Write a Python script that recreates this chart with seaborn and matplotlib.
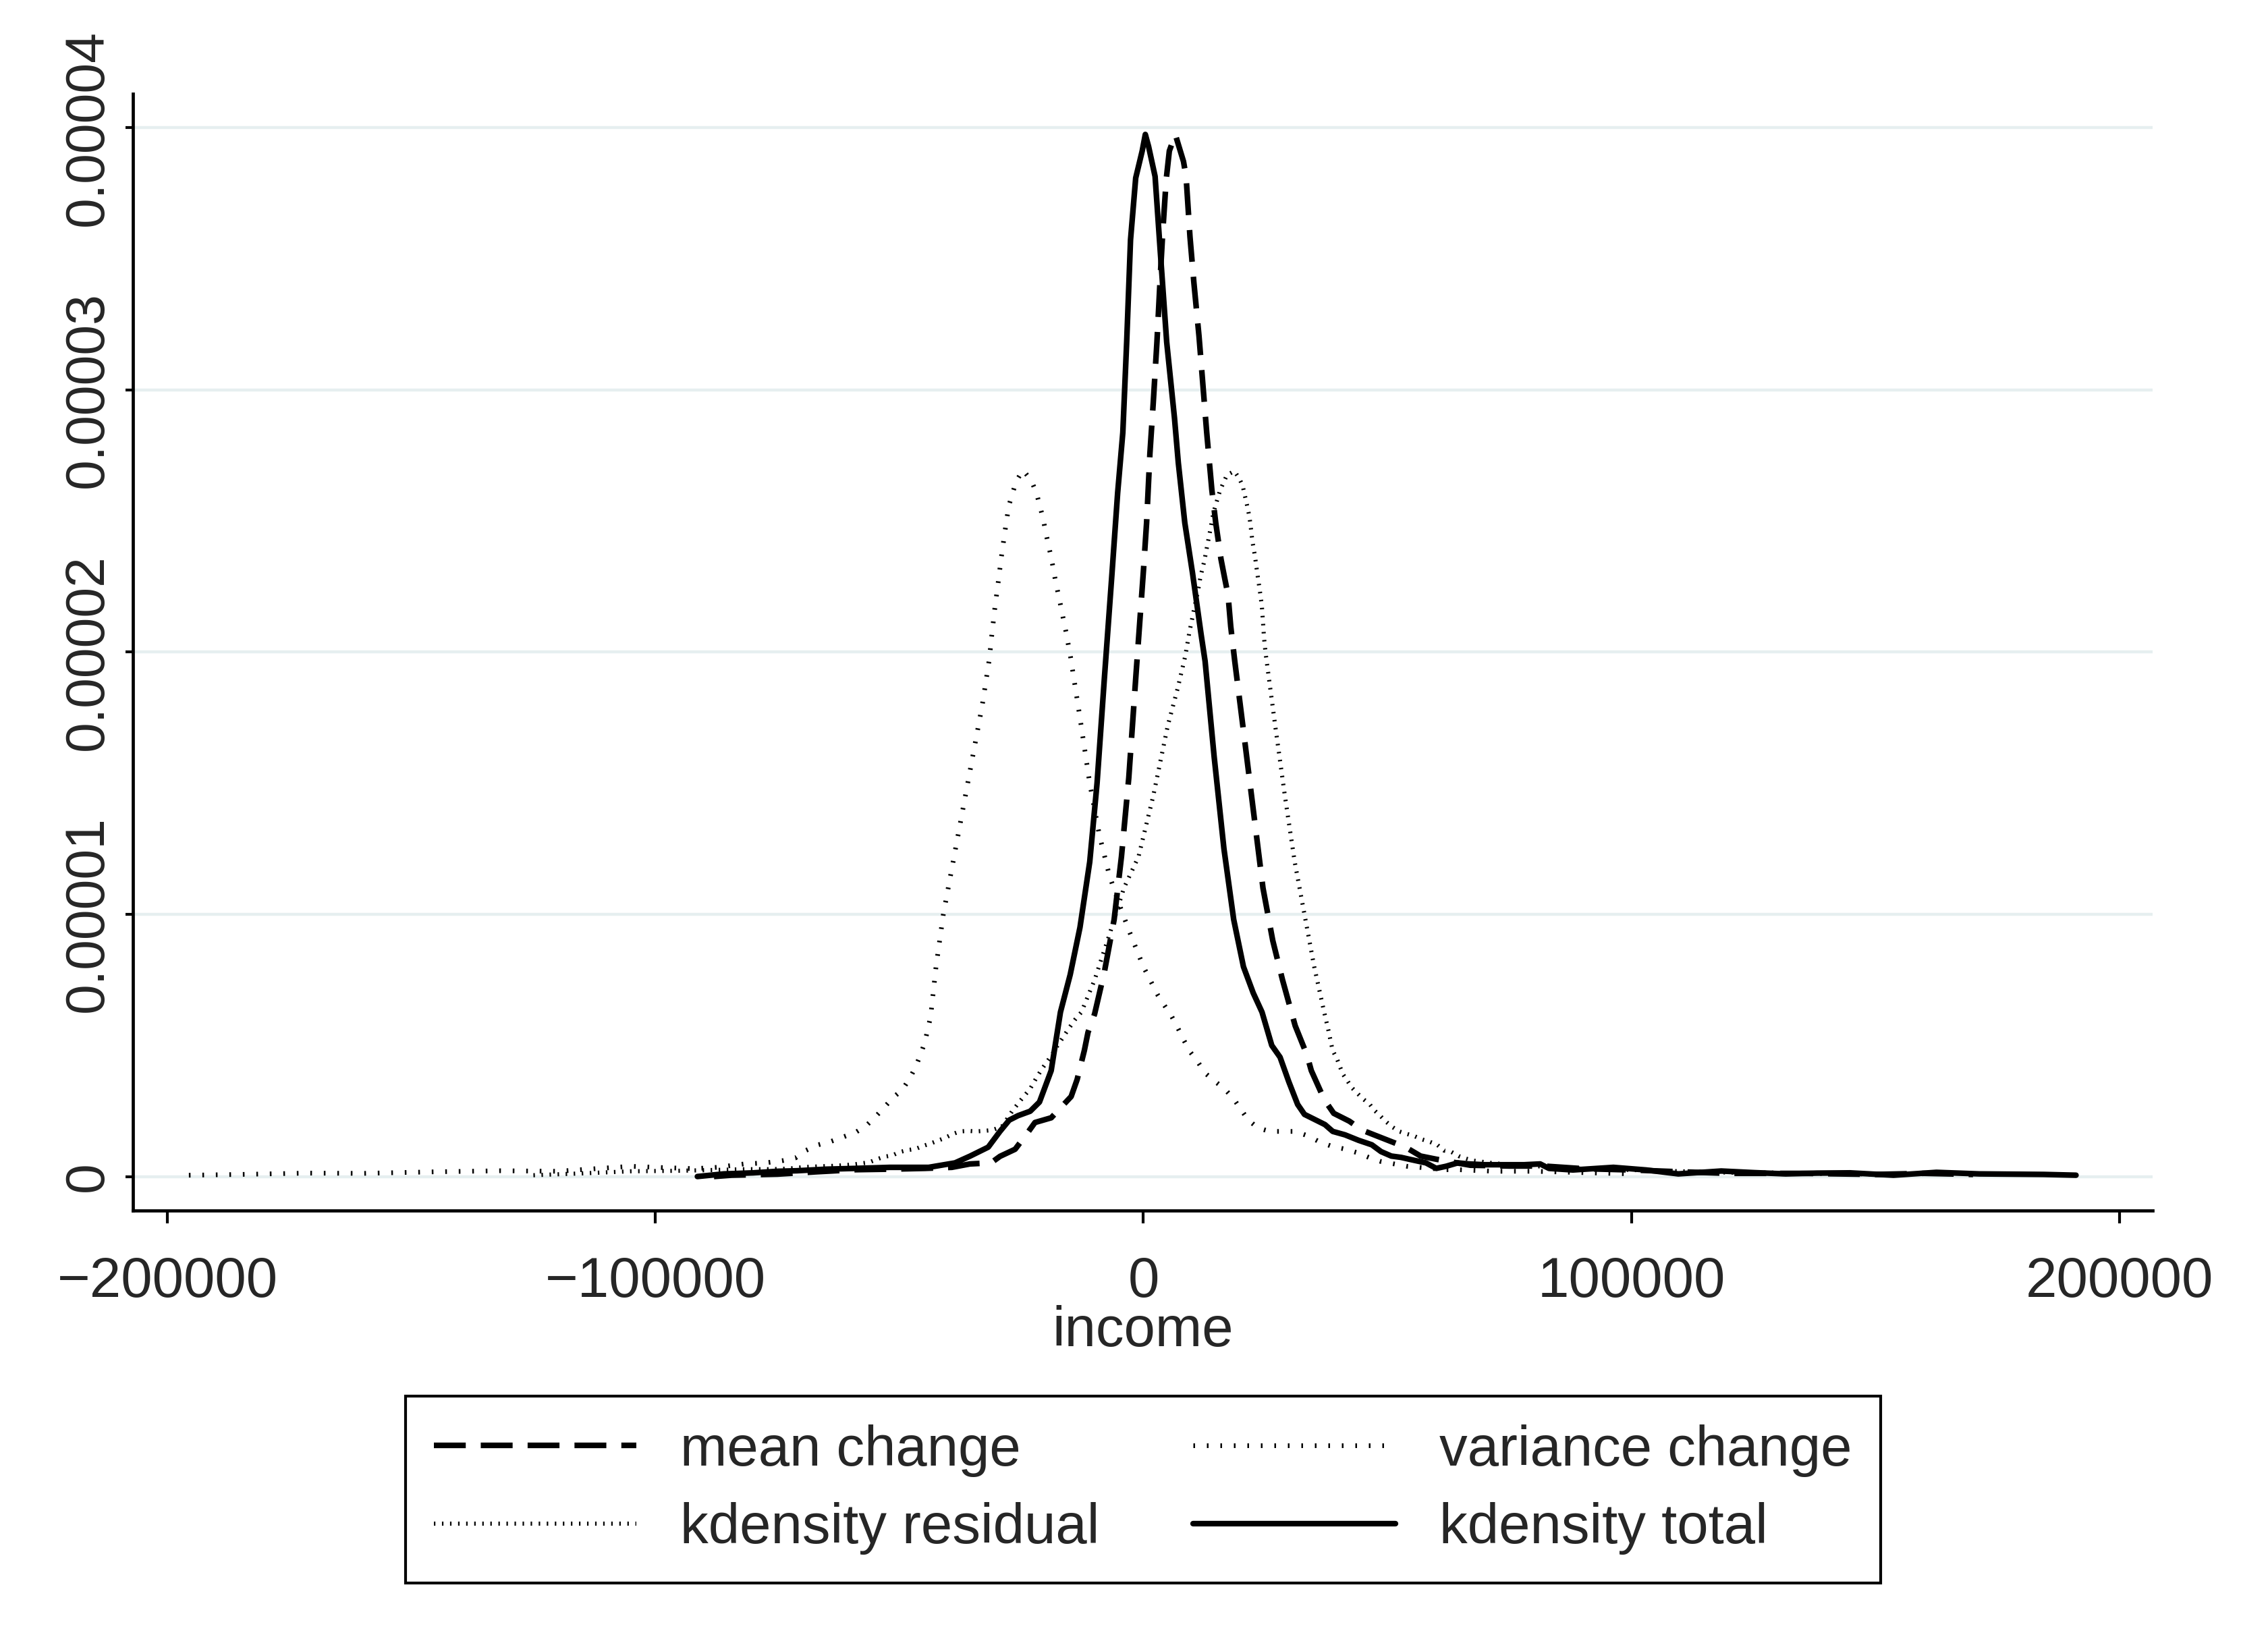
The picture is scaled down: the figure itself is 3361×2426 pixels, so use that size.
import numpy as np
import pandas as pd
import seaborn as sns
import matplotlib.pyplot as plt
from matplotlib.lines import Line2D

# Stata-like look: white background, light horizontal grid
sns.set_style("white")
plt.rcParams["font.family"] = ["Liberation Sans", "DejaVu Sans"]
plt.rcParams["lines.scale_dashes"] = False

UNIT = 1e-5  # y values below are in units of 0.00001

# kdensity total (solid)
x_total = [-91400, -86000, -80000, -75000, -71000, -65000, -59000, -52000, -44000,
           -38600, -35500, -31800, -29400, -27500, -25700, -23200, -21300, -18900,
           -17000, -15000, -13000, -11000, -9500, -8000, -6440, -5280, -4220, -3430,
           -2640, -1580, -250, 390, 1060, 2390, 3460, 4770, 6360, 7150, 8480, 10070,
           11800, 12640, 14500, 16500, 18500, 20500, 22500, 24300, 26300, 28000,
           29800, 31600, 33000, 35800, 37200, 38800, 41300, 44100, 46800, 48700,
           50800, 52800, 54700, 57900, 60000, 62000, 64400, 66700, 69900, 74000,
           78000, 81300, 83100, 88000, 96300, 103000, 109600, 118400, 125000,
           131600, 138000, 144800, 153700, 162500, 171300, 178000, 184500, 191100]
y_total = [0.0, 0.010, 0.014, 0.020, 0.022, 0.028, 0.031, 0.035, 0.035,
           0.052, 0.078, 0.112, 0.172, 0.215, 0.232, 0.249, 0.284, 0.404,
           0.627, 0.77, 0.95, 1.2, 1.5, 1.9, 2.30, 2.607, 2.837, 3.182,
           3.572, 3.808, 3.911, 3.974, 3.928, 3.814, 3.526, 3.182, 2.894, 2.722, 2.493, 2.30,
           2.07, 1.965, 1.6, 1.25, 0.98, 0.80, 0.70, 0.627, 0.50, 0.455,
           0.361, 0.275, 0.237, 0.211, 0.198, 0.172, 0.159, 0.138, 0.121, 0.095,
           0.078, 0.073, 0.065, 0.052, 0.031, 0.039, 0.052, 0.048, 0.045, 0.045,
           0.045, 0.048, 0.031, 0.025, 0.035, 0.025, 0.010, 0.021, 0.015,
           0.010, 0.013, 0.014, 0.005, 0.016, 0.010, 0.009, 0.008, 0.005]

# mean change (dashed)
x_mean = [-88000, -84400, -75000, -67000, -59000, -52000, -44800, -39250, -35550,
          -31230, -29380, -26290, -24000, -22220, -18890, -14810, -13580, -12100,
          -11350, -10000, -8000, -6000, -4500, -3000, -1500, 0, 650, 1330, 2020,
          2770, 3460, 3980, 4670, 5310, 6530, 8210, 8740, 9540, 10330, 11390, 12180,
          12970, 14020, 14820, 15890, 16650, 17340, 17890, 18720, 20500, 22500,
          24500, 26500, 28500, 31100, 33500, 34400, 37100, 39000, 42200, 44800,
          47800, 53700, 56800, 60000, 63000, 67000, 75000, 82000, 90000, 100000,
          110000, 120000, 135000, 150000, 160000, 170000]
y_mean = [0.0, 0.005, 0.009, 0.018, 0.026, 0.028, 0.031, 0.035, 0.048,
          0.052, 0.077, 0.104, 0.16, 0.206, 0.224, 0.305, 0.37, 0.481,
          0.55, 0.62, 0.78, 0.98, 1.22, 1.52, 1.92, 2.309, 2.493, 2.757, 2.952,
          3.182, 3.435, 3.607, 3.802, 3.911, 3.974, 3.871, 3.814, 3.584, 3.411, 3.205, 3.021,
          2.837, 2.619, 2.493, 2.355, 2.282, 2.218, 2.098, 1.965, 1.7, 1.4,
          1.1, 0.9, 0.75, 0.575, 0.464, 0.404, 0.292, 0.241, 0.211, 0.177,
          0.155, 0.112, 0.078, 0.066, 0.056, 0.043, 0.040, 0.040, 0.030, 0.025,
          0.018, 0.012, 0.012, 0.008, 0.012, 0.008]

# variance change (sparse dots, peak on the left)
x_var = [-195600, -185000, -171400, -160000, -145000, -131700, -120000, -105000,
         -100000, -92000, -87400, -81800, -77500, -73800, -71300, -69100, -66600,
         -64000, -61500, -59000, -56800, -54900, -53200, -51300, -49400, -47900,
         -46700, -45700, -44800, -43600, -42500, -41000, -39000, -37000, -35000,
         -33000, -31610, -31060, -30460, -29770, -29120, -28390, -27600, -26070,
         -24690, -23000, -21930, -21280, -20590, -20090, -19540, -18980, -18470,
         -18020, -17460, -16910, -16400, -15850, -15390, -14920, -13000, -11000,
         -9000, -7000, -5000, -3000, 0, 3000, 5810, 7040, 8280, 9510, 11120, 12600,
         14500, 16600, 18500, 19900, 21500, 23500, 25900, 28600, 31100, 33700,
         36000, 38500, 41200, 43800, 46300, 48700, 51400, 54000, 56500, 59000,
         61800, 64600, 72000, 80000, 90000, 100000]
y_var = [0.005, 0.008, 0.013, 0.012, 0.018, 0.022, 0.020, 0.039,
         0.035, 0.030, 0.035, 0.048, 0.052, 0.061, 0.071, 0.100, 0.121,
         0.134, 0.151, 0.168, 0.194, 0.228, 0.262, 0.301, 0.331, 0.374,
         0.417, 0.464, 0.511, 0.61, 0.8, 1.0, 1.2, 1.4, 1.6,
         1.8, 1.969, 2.066, 2.165, 2.264, 2.361, 2.458, 2.557, 2.651,
         2.694, 2.655, 2.608, 2.561, 2.512, 2.464, 2.415, 2.368, 2.319,
         2.271, 2.222, 2.173, 2.125, 2.076, 2.028, 1.98, 1.75, 1.5,
         1.3, 1.15, 1.04, 0.94, 0.8, 0.69, 0.61, 0.567, 0.52, 0.477, 0.438, 0.395,
         0.365, 0.335, 0.296, 0.258, 0.215, 0.185, 0.172, 0.172, 0.172, 0.155,
         0.133, 0.116, 0.105, 0.091, 0.072, 0.057, 0.048, 0.039, 0.035, 0.031,
         0.026, 0.026, 0.020, 0.020, 0.015, 0.010]

# kdensity residual (dense dots, peak on the right)
x_res = [-125000, -115000, -105000, -95000, -88000, -81000, -76200, -72800, -69500,
         -66100, -62900, -59400, -56200, -54600, -53200, -51400, -50000, -48300,
         -46700, -45100, -43600, -42100, -40700, -39100, -37600, -35900, -34300,
         -32700, -31000, -29000, -26900, -25100, -23200, -22000, -20700, -18900,
         -17650, -16400, -15200, -13900, -12700, -10000, -7000, -4000, -1000, 2000,
         5000, 7000, 8590, 9420, 10110, 10430, 11120, 11710, 12500, 13100, 13740,
         14340, 15270, 15720, 16420, 17110, 18630, 19650, 20340, 20660, 21030,
         21390, 21720, 21940, 22320, 22870, 23330, 23800, 24250, 24490, 24710,
         25040, 27000, 29000, 31000, 33000, 35000, 37040, 37900, 38770, 39700,
         40850, 41800, 42700, 43800, 45000, 46400, 47300, 48500, 49600, 51000,
         52400, 53700, 55400, 57000, 58600, 60200, 61600, 63000, 64600, 66000,
         67400, 72000, 80000, 90000, 100000, 110000, 120000, 130000, 140000, 150000]
y_res = [0.005, 0.012, 0.020, 0.022, 0.025, 0.028, 0.028, 0.030, 0.036,
         0.039, 0.041, 0.046, 0.054, 0.066, 0.075, 0.081, 0.093, 0.101,
         0.105, 0.117, 0.126, 0.137, 0.147, 0.162, 0.172, 0.174, 0.172,
         0.174, 0.177, 0.190, 0.249, 0.292, 0.335, 0.374, 0.413, 0.460,
         0.498, 0.533, 0.567, 0.601, 0.627, 0.75, 0.92, 1.1, 1.22, 1.45,
         1.72, 1.86, 1.986, 2.076, 2.138, 2.168, 2.227, 2.289, 2.349, 2.408, 2.469,
         2.531, 2.590, 2.617, 2.647, 2.675, 2.690, 2.662, 2.634, 2.607, 2.577,
         2.547, 2.516, 2.486, 2.424, 2.364, 2.301, 2.241, 2.179, 2.119, 2.055,
         1.995, 1.72, 1.45, 1.2, 1.0, 0.8, 0.627, 0.558, 0.481, 0.447,
         0.391, 0.365, 0.339, 0.318, 0.296, 0.275, 0.253, 0.232, 0.211, 0.189,
         0.172, 0.164, 0.155, 0.142, 0.133, 0.121, 0.099, 0.095, 0.078, 0.069,
         0.061, 0.050, 0.040, 0.030, 0.025, 0.020, 0.015, 0.015, 0.010, 0.008]

x_ticks = [-200000, -100000, 0, 100000, 200000]
x_tick_labels = ["\u2212200000", "\u2212100000", "0", "100000", "200000"]
y_ticks = [0, 0.00001, 0.00002, 0.00003, 0.00004]
y_tick_labels = ["0", "0.00001", "0.00002", "0.00003", "0.00004"]

# line styles (dash patterns in points)
styles = {
    "mean change": dict(lw=3.0, ls=(0, (17, 8))),
    "variance change": dict(lw=2.5, ls=(0, (0.9, 6.3))),
    "kdensity residual": dict(lw=2.2, ls=(0, (0.8, 3.5))),
    "kdensity total": dict(lw=3.0, ls="-"),
}
series = {
    "variance change": (x_var, y_var),
    "kdensity residual": (x_res, y_res),
    "mean change": (x_mean, y_mean),
    "kdensity total": (x_total, y_total),
}

fig = plt.figure(figsize=(16.805, 12.13), dpi=200)
ax = fig.add_axes([0.05853, 0.26031, 0.89060, 0.68240])

for name, (xs, ys) in series.items():
    df = pd.DataFrame({"income": xs, "density": np.array(ys) * UNIT})
    sns.lineplot(data=df, x="income", y="density", ax=ax, color="black",
                 linewidth=styles[name]["lw"], linestyle=styles[name]["ls"],
                 estimator=None, legend=False)

ax.set_xlim(-207100, 206800)
ax.set_ylim(-0.131e-5, 4.129e-5)
ax.set_xticks(x_ticks)
ax.set_xticklabels(x_tick_labels)
ax.set_yticks(y_ticks)
ax.set_yticklabels(y_tick_labels, rotation=90, va="center")

ax.yaxis.grid(True, color="#E6EFF0", linewidth=1.6)
ax.xaxis.grid(False)
ax.set_axisbelow(True)

sns.despine(ax=ax)
for side in ["left", "bottom"]:
    ax.spines[side].set_color("black")
    ax.spines[side].set_linewidth(1.7)

ax.tick_params(axis="x", direction="out", length=7, width=1.5, color="black",
               labelsize=30, pad=17, bottom=True)
ax.tick_params(axis="y", direction="out", length=4, width=1.5, color="black",
               labelsize=29, pad=6, left=True)
ax.set_xlabel("income", fontsize=30, labelpad=-2)
ax.set_ylabel("")

# legend, two columns in the Stata order
order = ["mean change", "kdensity residual", "variance change", "kdensity total"]
handles = [Line2D([0], [0], color="black", linewidth=styles[n]["lw"],
                  linestyle=styles[n]["ls"]) for n in order]
leg = fig.legend(handles, order, ncol=2, loc="upper center",
                 bbox_to_anchor=(0.504, 0.1472), frameon=True, fancybox=False,
                 edgecolor="black", framealpha=1, fontsize=30, handlelength=3.6,
                 handletextpad=0.78, columnspacing=1.67, borderpad=0.5,
                 labelspacing=0.45, borderaxespad=0)
leg.get_frame().set_linewidth(1.5)

fig.savefig("out.png", dpi=200)
